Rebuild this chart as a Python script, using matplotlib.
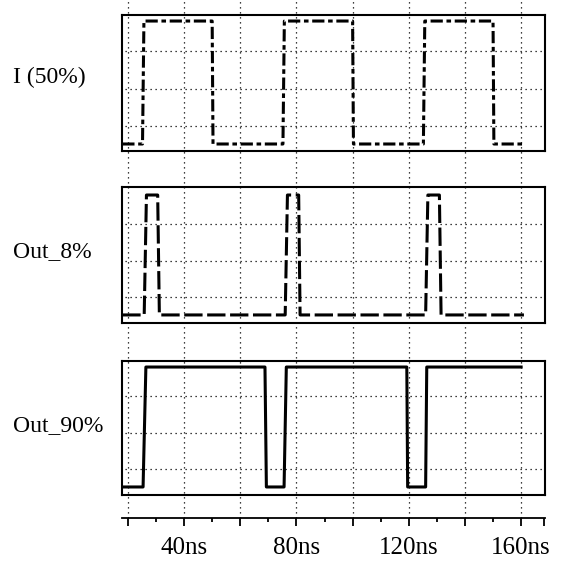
import matplotlib
matplotlib.use("Agg")
import matplotlib.pyplot as plt
import numpy as np

plt.rcParams['font.family'] = ['Liberation Serif', 'DejaVu Serif']

# signal names shown on the left
labels = ["I (50%)", "Out_8%", "Out_90%"]

# I (50%): 50 ns period square wave (time in ns, level 0/1)
t_in = [18, 25.2, 25.7, 50, 50.3, 75.2, 75.7, 100, 100.3, 125.2, 125.7, 150, 150.3, 161]
v_in = [0, 0, 1, 1, 0, 0, 1, 1, 0, 0, 1, 1, 0, 0]

# Out_8%: narrow pulses
t_out8 = [18, 25.8, 26.6, 30.6, 31.2, 76, 76.8, 80.8, 81.3, 126, 126.8, 130.9, 131.5, 161]
v_out8 = [0, 0, 1, 1, 0, 0, 1, 1, 0, 0, 1, 1, 0, 0]

# Out_90%: wide pulses
t_out90 = [18, 25.4, 26.4, 68.8, 69.3, 75.6, 76.4, 119.3, 119.6, 126, 126.4, 160]
v_out90 = [0, 0, 1, 1, 0, 0, 1, 1, 0, 0, 1, 1]

# x axis
x_min, x_max = 17.9, 168.5
major_ticks = [20, 40, 60, 80, 100, 120, 140, 160, 168.3]
major_labels = ["", "40ns", "", "80ns", "", "120ns", "", "160ns", ""]
minor_ticks = [30, 50, 70, 90, 110, 130, 150]
vgrid = [20, 40, 60, 80, 100, 120, 140, 160]
hgrid = [0.15, 0.45, 0.76]

fig = plt.figure(figsize=(5.72, 5.62), dpi=100)

# panel boxes in figure coords: (bottom, height, ylim)
left, width = 0.2133, 0.7395
panels = [
    (0.7313, 0.2420, (-0.057, 1.049), t_in, v_in, (0, (4, 1.2, 1.5, 1.2))),
    (0.4253, 0.2420, (-0.067, 1.067), t_out8, v_out8, (0, (6, 1.5))),
    (0.1192, 0.2384, (-0.067, 1.050), t_out90, v_out90, "-"),
]

# background axes for the dotted vertical grid running through everything
bg = fig.add_axes([left, 0.0783, width, 0.9217])
bg.set_xlim(x_min, x_max)
bg.set_ylim(0, 1)
bg.vlines(vgrid, 0, 1, colors="black", linestyles=(0, (1, 3)), linewidth=0.9)
bg.axis("off")

label_y = [0.863, 0.553, 0.243]

for (b, h, yl, t, v, ls), name, ly in zip(panels, labels, label_y):
    ax = fig.add_axes([left, b, width, h])
    ax.patch.set_alpha(0)
    ax.set_xlim(x_min, x_max)
    ax.set_ylim(*yl)
    ax.hlines(hgrid, x_min + 1, x_max - 1, colors="black",
              linestyles=(0, (1, 3)), linewidth=0.9)
    ax.plot(t, v, color="black", linewidth=2.2, linestyle=ls)
    ax.set_xticks([])
    ax.set_yticks([])
    for s in ax.spines.values():
        s.set_linewidth(1.5)
    fig.text(0.023, ly, name, fontsize=17, ha="left", va="center")

# separate time axis at the bottom
tax = fig.add_axes([left, 0.0783, width, 0.001])
tax.patch.set_alpha(0)
tax.set_xlim(x_min, x_max)
tax.set_yticks([])
for s in ["top", "left", "right"]:
    tax.spines[s].set_visible(False)
tax.spines["bottom"].set_linewidth(1.3)
tax.set_xticks(major_ticks)
tax.set_xticklabels(major_labels, fontsize=18)
tax.set_xticks(minor_ticks, minor=True)
tax.tick_params(axis="x", which="major", direction="out", length=6, width=1.3, pad=8)
tax.tick_params(axis="x", which="minor", direction="out", length=3, width=1.3)

fig.savefig("out.png", dpi=100)
